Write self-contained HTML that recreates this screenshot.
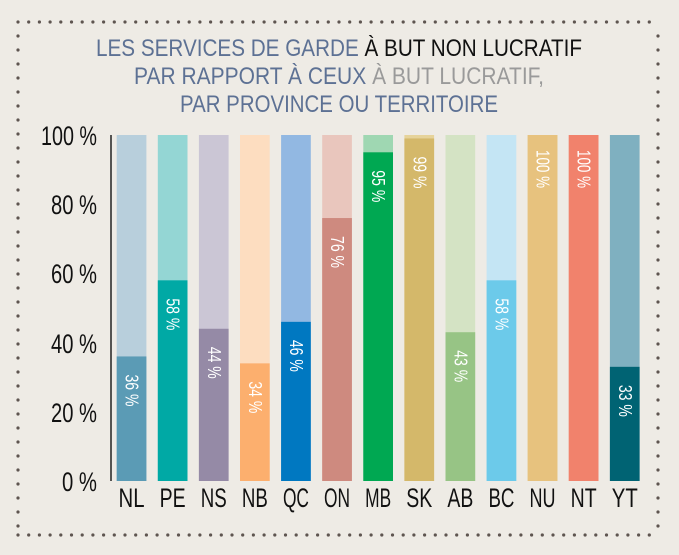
<!DOCTYPE html>
<html><head><meta charset="utf-8"><style>
html,body{margin:0;padding:0;background:#eeebe5;}
svg{display:block;font-family:"Liberation Sans",sans-serif;}
</style></head><body>
<svg width="679" height="555" viewBox="0 0 679 555" xmlns="http://www.w3.org/2000/svg">
<rect width="679" height="555" fill="#eeebe5"/>
<g id="dots"></g>
<text x="339" y="56" text-anchor="middle" font-size="24" fill="#5d7194" textLength="486" lengthAdjust="spacingAndGlyphs">LES SERVICES DE GARDE <tspan fill="#111">À BUT NON LUCRATIF</tspan></text>
<text x="339" y="84" text-anchor="middle" font-size="24" fill="#5d7194" textLength="410" lengthAdjust="spacingAndGlyphs">PAR RAPPORT À CEUX <tspan fill="#9a9a9a">À BUT LUCRATIF,</tspan></text>
<text x="339" y="112" text-anchor="middle" font-size="24" fill="#5d7194" textLength="318" lengthAdjust="spacingAndGlyphs">PAR PROVINCE OU TERRITOIRE</text>
<line x1="111" y1="135" x2="111" y2="481" stroke="#222" stroke-width="1.5"/>
<g font-size="27" fill="#111" text-anchor="end">
<text x="97" y="145" textLength="56" lengthAdjust="spacingAndGlyphs">100 %</text>
<text x="97" y="214" textLength="46" lengthAdjust="spacingAndGlyphs">80 %</text>
<text x="97" y="283" textLength="46" lengthAdjust="spacingAndGlyphs">60 %</text>
<text x="97" y="353" textLength="46" lengthAdjust="spacingAndGlyphs">40 %</text>
<text x="97" y="422" textLength="46" lengthAdjust="spacingAndGlyphs">20 %</text>
<text x="97" y="491" textLength="35" lengthAdjust="spacingAndGlyphs">0 %</text>
</g>
<g id="bars"></g>
</svg>
<script>
(function(){
var ns="http://www.w3.org/2000/svg",svg=document.querySelector("svg");
function el(t,a,p){var e=document.createElementNS(ns,t);for(var k in a)e.setAttribute(k,a[k]);(p||svg).appendChild(e);return e;}
var d=document.getElementById("dots");
for(var x=18;x<=660;x+=10.7){el("circle",{cx:x,cy:22,r:1.6,fill:"#5e5550"},d);el("circle",{cx:x,cy:535,r:1.6,fill:"#5e5550"},d);}
for(var y=36;y<530;y+=14){el("circle",{cx:18,cy:y,r:1.6,fill:"#5e5550"},d);el("circle",{cx:658,cy:y,r:1.6,fill:"#5e5550"},d);}
var data=[["NL",36,"#b8cfdc","#5b9bb5"],["PE",58,"#94d6d4","#00a9a5"],["NS",44,"#cbc6d5","#958aa6"],["NB",34,"#fdddc0","#fcaf6e"],["QC",46,"#92b8e2","#0078c1"],["ON",76,"#e9c6bd","#ce8a7f"],["MB",95,"#9fd7b2","#00a852"],["SK",99,"#e6d39a","#d4b86a"],["AB",43,"#d4e3c4","#97c485"],["BC",58,"#c4e5f4","#6ccaea"],["NU",100,"#e7c27e","#e7c27e"],["NT",100,"#f1826c","#f1826c"],["YT",33,"#7fb0c0","#006373"]];
var b=document.getElementById("bars"),top=135,bot=481,h=bot-top;
data.forEach(function(r,i){
 var x=116.7+i*41.1,w=29.7,yv=bot-h*r[1]/100;
 el("rect",{x:x,y:top,width:w,height:h,fill:r[2]},b);
 el("rect",{x:x,y:yv,width:w,height:bot-yv,fill:r[3]},b);
 var cx=x+w/2,ty=Math.max(yv,top)+(r[1]==100?15:18);
 var t=el("text",{x:0,y:0,"font-size":"18",fill:"#fff","text-anchor":"start",transform:"translate("+(cx-6)+","+ty+") rotate(90)",textLength:(r[1]==100?38:32),lengthAdjust:"spacingAndGlyphs"},b);
 t.textContent=r[1]+" %";
 var l=el("text",{x:cx,y:507,"font-size":"27",fill:"#111","text-anchor":"middle",textLength:r[0].length*13,lengthAdjust:"spacingAndGlyphs"},b);
 l.textContent=r[0];
});
})();
</script>
</body></html>
